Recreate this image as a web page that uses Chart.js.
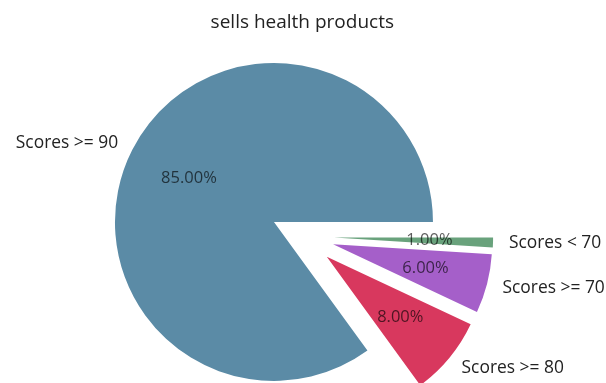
<!DOCTYPE html>
<html>
<head>
<meta charset="utf-8">
<script src="https://cdn.jsdelivr.net/npm/chart.js@4"></script>
<style>
  html, body { margin: 0; padding: 0; background: #ffffff; }
  #wrap { width: 606px; height: 383px; }
</style>
</head>
<body>
<div id="wrap"><canvas id="c" width="606" height="383"></canvas></div>
<script>
// Slices in clockwise drawing order, starting from 3 o'clock
const categories = ['Scores < 70', 'Scores >= 70', 'Scores >= 80', 'Scores >= 90'];
const shares = [1, 6, 8, 85];
const explode = [0.2, 0.2, 0.2, 0.2];
const sliceColors = ['#69a27c', '#a55fc9', '#d8385e', '#5b8ba6'];
const chartTitle = 'sells health products';

const FONT = "'Open Sans', 'Noto Sans', sans-serif";

// Pushes each wedge out along its bisector and writes the outer labels
// and the percentage labels inside the wedges.
const pieLabels = {
  id: 'pieLabels',
  beforeDatasetsDraw(chart) {
    const meta = chart.getDatasetMeta(0);
    const a = chart.chartArea;
    const cx = (a.left + a.right) / 2;
    const cy = (a.top + a.bottom) / 2;
    meta.data.forEach((arc, i) => {
      const mid = (arc.startAngle + arc.endAngle) / 2;
      const d = explode[i] * arc.outerRadius;
      arc.x = cx + Math.cos(mid) * d;
      arc.y = cy + Math.sin(mid) * d;
    });
  },
  afterDatasetsDraw(chart) {
    const ctx = chart.ctx;
    const meta = chart.getDatasetMeta(0);
    const values = chart.data.datasets[0].data;
    const total = values.reduce((s, v) => s + v, 0);
    ctx.save();
    meta.data.forEach((arc, i) => {
      const mid = (arc.startAngle + arc.endAngle) / 2;
      const r = arc.outerRadius;
      const cos = Math.cos(mid), sin = Math.sin(mid);

      // category label at 1.1 r
      const lx = arc.x + cos * r * 1.1;
      const ly = arc.y + sin * r * 1.1;
      ctx.font = '17.4px ' + FONT;
      ctx.fillStyle = '#222222';
      ctx.textBaseline = 'middle';
      ctx.textAlign = cos < 0 ? 'right' : 'left';
      ctx.fillText(chart.data.labels[i], lx, ly);

      // percentage at 0.6 r
      const px = arc.x + cos * r * 0.6;
      const py = arc.y + sin * r * 0.6;
      ctx.font = '16.5px ' + FONT;
      ctx.fillStyle = 'rgba(0,0,0,0.64)';
      ctx.textAlign = 'center';
      ctx.fillText((values[i] / total * 100).toFixed(2) + '%', px, py);
    });
    ctx.restore();
  }
};

new Chart(document.getElementById('c'), {
  type: 'pie',
  data: {
    labels: categories,
    datasets: [{
      data: shares,
      backgroundColor: sliceColors,
      borderWidth: 0,
      clip: false
    }]
  },
  options: {
    responsive: false,
    devicePixelRatio: 1,
    animation: false,
    events: [],
    rotation: 90,
    radius: 159,
    layout: { padding: { left: 0, right: 1.4, top: 0, bottom: 0 } },
    plugins: {
      legend: { display: false },
      tooltip: { enabled: false },
      title: {
        display: true,
        text: chartTitle,
        color: '#222222',
        font: { family: FONT, size: 19, weight: 'normal', lineHeight: 1.2 },
        padding: { top: 11.1, bottom: 55.9 }
      }
    }
  },
  plugins: [pieLabels]
});
</script>
</body>
</html>
